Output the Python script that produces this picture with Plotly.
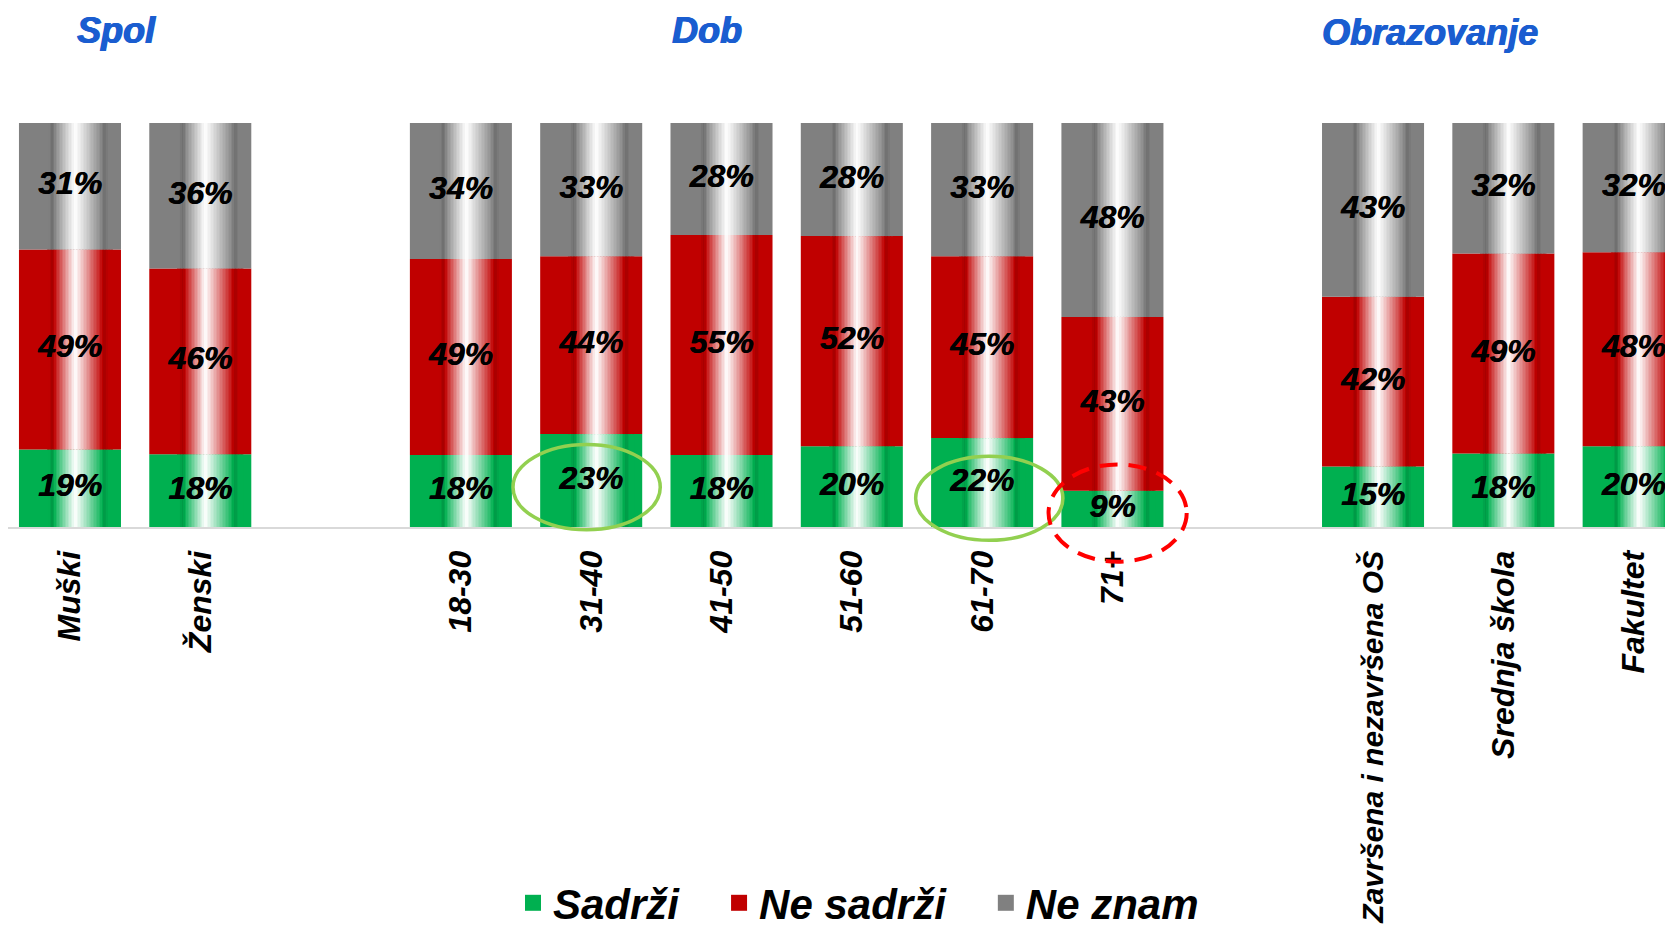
import plotly.graph_objects as go

# ---------------- data ----------------
categories = ["Muški", "Ženski",
              "18-30", "31-40", "41-50", "51-60", "61-70", "71+",
              "Završena i nezavršena OŠ", "Srednja škola", "Fakultet"]
groups = ["Spol", "Spol",
          "Dob", "Dob", "Dob", "Dob", "Dob", "Dob",
          "Obrazovanje", "Obrazovanje", "Obrazovanje"]
sadrzi = [19, 18, 18, 23, 18, 20, 22, 9, 15, 18, 20]
ne_sadrzi = [49, 46, 49, 44, 55, 52, 45, 43, 42, 49, 48]
ne_znam = [31, 36, 34, 33, 28, 28, 33, 48, 43, 32, 32]
series_names = ["Sadrži", "Ne sadrži", "Ne znam"]
group_titles = ["Spol", "Dob", "Obrazovanje"]

# ---------------- style ----------------
FONT = "Liberation Sans"
base_colors = [(0, 176, 80), (192, 0, 0), (128, 128, 128)]
BAR_W = 0.783
PAGE_OFF = 8          # default body margin of the html page
FIG_W, FIG_H = 1673 - PAGE_OFF, 942 - 2 * PAGE_OFF
PLOT_TOP, PLOT_BOT = 123 - PAGE_OFF, 527 - PAGE_OFF   # in figure pixels
PLOT_H = PLOT_BOT - PLOT_TOP
SLOT = 130.3
X0 = -0.537 + PAGE_OFF / SLOT
X1 = 12.302

# gradient stops across the bar width (t, factor): >0 mix to white, <0 darken
stops = [(0.0, 0.0), (0.30, 0.0), (0.335, -0.14), (0.37, 0.12), (0.50, 0.75),
         (0.555, 1.0), (0.60, 0.85), (0.80, 0.12), (0.845, -0.14), (0.88, 0.0), (1.0, 0.0)]


def factor(t):
    for (t0, f0), (t1, f1) in zip(stops[:-1], stops[1:]):
        if t0 <= t <= t1:
            return f0 + (f1 - f0) * (t - t0) / (t1 - t0)
    return 0.0


def shade(c, f):
    if f >= 0:
        r, g, b = (int(round(v + (255 - v) * f)) for v in c)
    else:
        r, g, b = (int(round(v * (1 + f))) for v in c)
    return f"rgb({r},{g},{b})"


# x positions: one empty slot between groups
positions = []
p = 0
for i, g in enumerate(groups):
    if i > 0 and g != groups[i - 1]:
        p += 1
    positions.append(p)
    p += 1

series = [sadrzi, ne_sadrzi, ne_znam]
totals = [a + b + c for a, b, c in zip(sadrzi, ne_sadrzi, ne_znam)]
heights = [[v / t * 100 for v, t in zip(s, totals)] for s in series]
bases = []
for k in range(3):
    bases.append([sum(heights[j][i] for j in range(k)) for i in range(len(categories))])

# long tick labels are set slightly smaller so that they stay on the page
tick_text = [c if len(c) < 20 else f'<span style="font-size:30px">{c}</span>' for c in categories]

fig = go.Figure()

# solid base bars
for k in range(3):
    fig.add_trace(go.Bar(
        x=positions, y=heights[k], base=bases[k], width=BAR_W,
        marker=dict(color=shade(base_colors[k], 0), line=dict(width=0)),
        name=series_names[k], showlegend=False, hoverinfo="skip"))

# gradient strips overlaid on the middle of each bar
T0, T1, N = 0.28, 0.92, 44
dt = (T1 - T0) / N
for s in range(N):
    ta = T0 + s * dt
    tc = ta + dt / 2
    xs, ys, bs, cs = [], [], [], []
    for k in range(3):
        col = shade(base_colors[k], factor(tc))
        for i in range(len(categories)):
            xs.append(positions[i]); ys.append(heights[k][i]); bs.append(bases[k][i]); cs.append(col)
    fig.add_trace(go.Bar(
        x=xs, y=ys, base=bs, width=dt * BAR_W * 1.15,
        offset=-BAR_W / 2 + ta * BAR_W - dt * BAR_W * 0.05,
        marker=dict(color=cs, line=dict(width=0)),
        showlegend=False, hoverinfo="skip"))

# value labels
for k in range(3):
    fig.add_trace(go.Scatter(
        x=positions, y=[b + h / 2 for b, h in zip(bases[k], heights[k])],
        mode="text", text=[f"{v}%" for v in series[k]],
        textposition="middle center",
        textfont=dict(family=FONT, size=32, color="black", weight="bold", style="italic",
                      shadow="0.6px 0px 0px black"),
        showlegend=False, hoverinfo="skip"))

# legend entries
for k in range(3):
    fig.add_trace(go.Scatter(
        x=[None], y=[None], mode="markers",
        marker=dict(symbol="square", size=16, color=shade(base_colors[k], 0)),
        name=series_names[k] + "\u00a0\u00a0\u00a0"))

# highlight ellipses
green_line = dict(color="#92D050", width=3.5)
fig.add_shape(type="circle", xref="x", yref="paper", x0=3.40, x1=4.53, y0=-0.007, y1=0.204,
              line=green_line)
fig.add_shape(type="circle", xref="x", yref="paper", x0=6.49, x1=7.62, y0=-0.033, y1=0.175,
              line=green_line)
fig.add_shape(type="circle", xref="x", yref="paper", x0=7.51, x1=8.57, y0=-0.086, y1=0.155,
              line=dict(color="#FF0000", width=4, dash="18px,11px"))

# group titles (page pixel positions)
title_x = [116, 707, 1430]
title_y = [30, 30, 32]
TITLE_BLUE = "#1A5DD0"
for name, tx, ty in zip(group_titles, title_x, title_y):
    fig.add_annotation(text=name, xref="paper", yref="paper",
                       x=(tx - PAGE_OFF) / FIG_W, y=(PLOT_BOT - (ty - PAGE_OFF)) / PLOT_H,
                       xanchor="center", yanchor="middle", showarrow=False,
                       font=dict(family=FONT, size=36, color=TITLE_BLUE, weight="bold", style="italic",
                                 shadow=f"0.8px 0.4px 0px {TITLE_BLUE}, -0.4px 0px 0px {TITLE_BLUE}"))

legend_x, legend_y = 513, 903   # page pixels
fig.update_layout(
    width=FIG_W, height=FIG_H,
    margin=dict(l=0, r=0, t=PLOT_TOP, b=FIG_H - PLOT_BOT, autoexpand=False),
    barmode="overlay",
    paper_bgcolor="white", plot_bgcolor="white",
    xaxis=dict(range=[X0, X1], tickmode="array", tickvals=positions, ticktext=tick_text,
               tickangle=-90, showgrid=False, zeroline=False, showline=True,
               linecolor="#D9D9D9", linewidth=2, ticks="", ticklabelstandoff=9,
               automargin=False,
               tickfont=dict(family=FONT, size=32, color="black", weight="bold", style="italic"),
               fixedrange=True),
    yaxis=dict(range=[0, 100], visible=False, fixedrange=True, automargin=False),
    legend=dict(orientation="h", x=(legend_x - PAGE_OFF) / FIG_W, xanchor="left",
                y=(PLOT_BOT - (legend_y - PAGE_OFF)) / PLOT_H, yanchor="middle",
                font=dict(family=FONT, size=42, color="black", weight="bold", style="italic"),
                bgcolor="rgba(0,0,0,0)"),
    showlegend=True,
)

fig.write_html("out.html")
